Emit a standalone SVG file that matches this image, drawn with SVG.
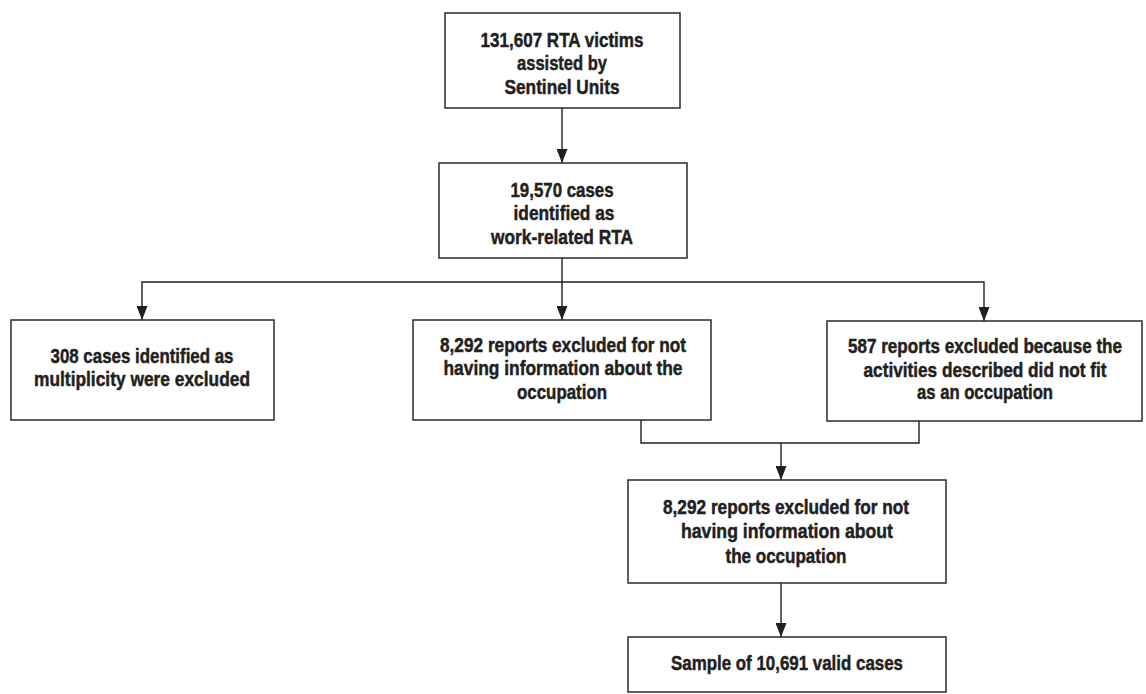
<svg xmlns="http://www.w3.org/2000/svg" width="1146" height="694" viewBox="0 0 1146 694">
<style>
.box{fill:#fff;stroke:#2b2a2a;stroke-width:1.5}
.t{font-family:"Liberation Sans Narrow","Liberation Sans",Arial,sans-serif;font-weight:bold;font-size:21px;fill:#231f20;stroke:#231f20;stroke-width:0.5;text-anchor:middle}
.c{fill:none;stroke:#231f20;stroke-width:1.4}
</style>
<defs>
<marker id="ad" markerUnits="userSpaceOnUse" markerWidth="14" markerHeight="11" refX="14" refY="5.5" orient="auto-start-reverse" viewBox="0 0 14 11">
<path d="M0 0 L14 5.5 L0 11 Z" fill="#231f20"/>
</marker>
</defs>
<rect width="1146" height="694" fill="#fff"/>
<g id="connectors">
<path class="c" d="M562 108 V163" marker-end="url(#ad)"/>
<path class="c" d="M562 258 V320" marker-end="url(#ad)"/>
<path class="c" d="M142 320 V282 H984 V321" marker-start="url(#ad)" marker-end="url(#ad)"/>
<path class="c" d="M641 420 V443 H919 V421"/>
<path class="c" d="M781 443 V480" marker-end="url(#ad)"/>
<path class="c" d="M781 583 V637" marker-end="url(#ad)"/>
</g>
<g id="n1">
<rect class="box" x="445" y="13" width="235" height="95"/>
<text class="t" x="562" y="47" textLength="163" lengthAdjust="spacingAndGlyphs">131,607 RTA victims</text>
<text class="t" x="562" y="70" textLength="90" lengthAdjust="spacingAndGlyphs">assisted by</text>
<text class="t" x="562" y="94" textLength="115" lengthAdjust="spacingAndGlyphs">Sentinel Units</text>
</g>
<g id="n2">
<rect class="box" x="439" y="163" width="248" height="95"/>
<text class="t" x="562" y="197" textLength="103" lengthAdjust="spacingAndGlyphs">19,570 cases</text>
<text class="t" x="564" y="220" textLength="101" lengthAdjust="spacingAndGlyphs">identified as</text>
<text class="t" x="562" y="244" textLength="142" lengthAdjust="spacingAndGlyphs">work-related RTA</text>
</g>
<g id="n3">
<rect class="box" x="11" y="320" width="263" height="100"/>
<text class="t" x="142" y="363" textLength="183" lengthAdjust="spacingAndGlyphs">308 cases identified as</text>
<text class="t" x="142" y="386" textLength="216" lengthAdjust="spacingAndGlyphs">multiplicity were excluded</text>
</g>
<g id="n4">
<rect class="box" x="413" y="320" width="298" height="100"/>
<text class="t" x="563" y="352" textLength="246" lengthAdjust="spacingAndGlyphs">8,292 reports excluded for not</text>
<text class="t" x="563" y="375" textLength="239" lengthAdjust="spacingAndGlyphs">having information about the</text>
<text class="t" x="562" y="399" textLength="90" lengthAdjust="spacingAndGlyphs">occupation</text>
</g>
<g id="n5">
<rect class="box" x="827" y="321" width="315" height="100"/>
<text class="t" x="985" y="353" textLength="274" lengthAdjust="spacingAndGlyphs">587 reports excluded because the</text>
<text class="t" x="985" y="377" textLength="243" lengthAdjust="spacingAndGlyphs">activities described did not fit</text>
<text class="t" x="985" y="399" textLength="136" lengthAdjust="spacingAndGlyphs">as an occupation</text>
</g>
<g id="n6">
<rect class="box" x="628" y="480" width="318" height="103"/>
<text class="t" x="786" y="514" textLength="246" lengthAdjust="spacingAndGlyphs">8,292 reports excluded for not</text>
<text class="t" x="787" y="538" textLength="212" lengthAdjust="spacingAndGlyphs">having information about</text>
<text class="t" x="786" y="563" textLength="121" lengthAdjust="spacingAndGlyphs">the occupation</text>
</g>
<g id="n7">
<rect class="box" x="628" y="637" width="318" height="55"/>
<text class="t" x="787" y="670" textLength="232" lengthAdjust="spacingAndGlyphs">Sample of 10,691 valid cases</text>
</g>
</svg>
